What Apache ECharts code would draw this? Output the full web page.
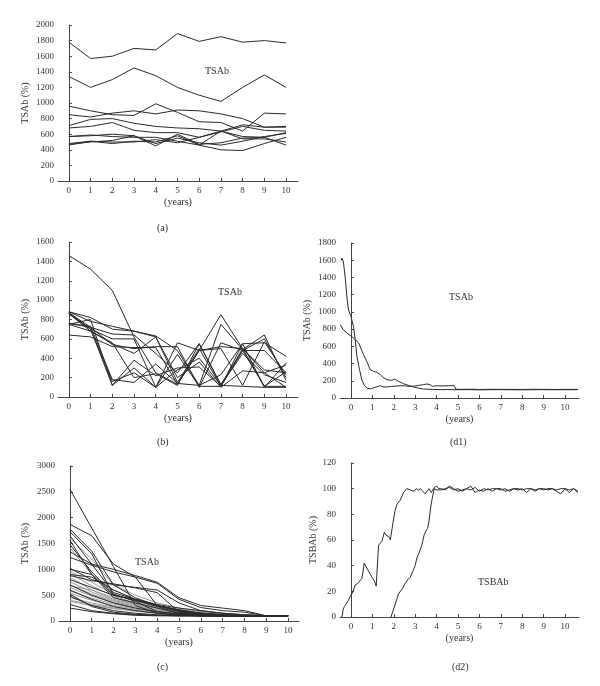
<!DOCTYPE html>
<html><head><meta charset="utf-8">
<script src="https://cdn.jsdelivr.net/npm/echarts@6/dist/echarts.min.js"></script>
<style>html,body{margin:0;padding:0;background:#fff}#c{width:600px;height:686px}</style>
</head><body><div id="c"></div>
<script>
const years = [0,1,2,3,4,5,6,7,8,9,10];
const tickYears = [0,1,2,3,4,5,6,7,8,9,10];

// Panel (a)
const aSeries = [
  [1780,1570,1600,1700,1680,1890,1790,1850,1780,1800,1770],
  [1340,1200,1300,1450,1350,1200,1100,1020,1200,1360,1200],
  [960,900,850,840,990,880,760,750,640,870,860],
  [850,820,870,900,860,910,900,860,800,690,690],
  [710,790,800,740,700,680,670,640,720,690,700],
  [680,700,750,650,620,620,560,630,700,650,640],
  [570,580,600,580,450,600,470,490,550,560,620],
  [570,590,570,560,560,510,460,640,570,560,460],
  [480,510,480,510,500,580,460,400,390,480,560],
  [460,510,500,500,530,490,560,640,540,540,500],
  [470,500,520,580,480,550,490,460,510,570,610]
];

// Panel (b)
const bSeries = [
  [1460,1320,1100,620,250,130,480,850,500,280,250],
  [880,820,700,680,630,480,120,750,490,640,170],
  [880,780,730,680,620,150,500,110,550,560,420],
  [870,720,650,640,450,250,550,130,480,600,200],
  [860,700,600,600,100,560,480,520,500,110,260],
  [760,720,540,500,520,520,100,560,480,480,250],
  [750,680,550,450,620,200,360,100,270,250,330],
  [640,620,520,510,510,130,480,500,120,570,230],
  [860,700,120,300,100,280,400,120,450,230,150],
  [760,730,180,150,340,140,120,230,550,100,350],
  [870,700,160,250,100,440,110,110,500,250,100],
  [750,800,120,380,220,300,310,110,480,110,110],
  [860,680,560,200,240,120,550,120,110,100,100]
];

// Panel (c)
const cBlack = [
  [2550,1800,1050,300,150,110,100,100,100,100,100],
  [1870,1650,1100,850,300,200,150,120,100,100,100],
  [1780,1350,700,450,300,200,150,120,100,100,100],
  [1730,1300,500,400,280,150,120,110,100,100,100],
  [1650,1100,550,420,300,180,130,110,100,100,100],
  [1560,900,450,350,250,150,120,100,100,100,100],
  [1480,950,520,380,180,130,110,100,100,100,100],
  [1340,1100,1000,880,750,450,300,250,200,100,100],
  [1230,1080,950,850,730,420,260,200,170,100,100],
  [1020,800,700,650,600,350,200,150,120,100,100],
  [880,780,720,640,550,170,130,110,100,100,100],
  [800,650,500,420,300,200,150,120,100,100,100],
  [700,500,350,250,180,140,110,100,100,100,100],
  [600,420,280,200,150,120,100,100,100,100,100],
  [480,300,200,150,120,110,100,100,100,100,100],
  [320,200,150,120,110,100,100,100,100,100,100],
  [250,180,140,110,100,100,100,100,100,100,100],
  [520,280,170,130,110,100,100,100,100,100,100],
  [1000,900,500,400,300,220,150,120,100,100,100],
  [900,850,600,420,320,250,200,150,120,100,100]
];
const cGray = [
  [1600,1200,700,500,350,250,180,150,120,100,100],
  [1420,900,600,420,300,220,170,140,110,100,100],
  [960,750,520,380,280,200,150,130,110,100,100],
  [920,680,480,350,260,190,150,120,100,100,100],
  [850,600,420,320,240,180,140,120,100,100,100],
  [760,560,400,300,220,170,130,110,100,100,100],
  [700,520,380,280,210,160,130,110,100,100,100],
  [650,480,360,260,200,150,120,100,100,100,100],
  [580,440,330,250,190,150,120,100,100,100,100],
  [540,400,300,230,180,140,110,100,100,100,100],
  [450,350,270,210,170,130,110,100,100,100,100],
  [400,320,250,200,160,130,110,100,100,100,100],
  [380,300,240,190,150,120,100,100,100,100,100],
  [680,600,450,330,250,200,160,130,110,100,100]
];

// Panel (d1)
const d1A = [[-0.45,1600],[-0.42,1625],[-0.35,1580],[-0.26,1380],[-0.18,1150],[-0.11,1020],[0.0,950],[0.12,830],[0.2,680],[0.28,480],[0.4,330],[0.51,210],[0.62,150],[0.75,115],[0.9,105],[1.05,118],[1.2,128],[1.37,143],[1.5,130],[1.68,128],[1.9,135],[2.1,138],[2.3,143],[2.55,140],[2.77,135],[3.0,140],[3.2,148],[3.39,155],[3.55,163],[3.7,155],[3.8,135],[3.86,116],[4.01,143],[4.3,140],[4.63,143],[4.82,143],[4.9,104]];
const d1B = [[-0.5,852],[-0.35,790],[-0.19,755],[0.0,720],[0.12,697],[0.36,639],[0.59,503],[0.75,420],[0.9,329],[1.05,310],[1.21,298],[1.37,271],[1.5,240],[1.68,213],[1.91,205],[2.04,220],[2.22,193],[2.46,166],[2.7,145],[2.92,128],[3.15,115],[3.39,104],[3.8,100],[4.17,97],[4.5,98]];
const d1TailYears = [5.0,5.5,6.0,6.5,7.0,7.5,8.0,8.5,9.0,9.5,10.0,10.6];
const d1ATail = [100,102,99,101,100,100,99,101,100,99,100,100];
const d1BTail = [96,97,95,96,97,96,95,96,97,96,96,96];

// Panel (d2)
const d2A = [[-0.42,0],[-0.36,6],[-0.31,8],[-0.15,12],[-0.03,16],[0.1,20],[0.2,25],[0.31,26],[0.4,25],[0.51,30],[0.57,36],[0.62,42],[0.75,38],[0.88,34],[0.98,31],[1.1,28],[1.18,24],[1.22,24],[1.29,56],[1.45,59],[1.56,66],[1.63,64],[1.71,63],[1.8,62],[1.84,60],[1.96,73],[2.05,82],[2.15,88],[2.3,91],[2.46,97],[2.61,100],[2.7,100],[2.77,99],[2.85,100],[2.95,98],[3.05,100],[3.15,99],[3.25,100],[3.35,98],[3.47,96],[3.55,98],[3.65,100],[3.75,97],[3.85,100],[4.0,99]];
const d2B = [[1.87,0],[1.95,4],[2.07,10],[2.22,18],[2.4,22],[2.53,26],[2.65,29],[2.77,31],[2.9,36],[3.0,40],[3.08,46],[3.16,49],[3.25,53],[3.31,56],[3.42,64],[3.5,67],[3.58,69],[3.65,75],[3.72,85],[3.78,91],[3.9,101],[4.01,102],[4.1,100]];
const d2TailYears = [4.2,4.4,4.6,4.8,5.0,5.2,5.4,5.6,5.8,6.0,6.2,6.4,6.6,6.8,7.0,7.2,7.4,7.6,7.8,8.0,8.2,8.4,8.6,8.8,9.0,9.2,9.4,9.6,9.8,10.0,10.2,10.4,10.6];
const d2ATail = [99,100,101,99,100,98,100,99,101,98,100,99,100,100,99,100,98,100,99,100,97,100,99,100,100,99,100,98,96,100,99,100,98];
const d2BTail = [100,99,102,100,98,99,100,102,97,99,98,100,98,100,100,98,99,100,100,99,100,100,98,100,99,100,100,99,100,100,97,100,97];

const FONT = 'Liberation Serif';
const TXT = '#333';
const LINE = '#2b2b2b';

function pairs(vals){ return years.map((y,i)=>[y, vals[i]]); }
function tail(xs, vs){ return xs.map((x,i)=>[x, vs[i]]); }

function xAxis(gi, min, max){
  return {
    type:'value', gridIndex:gi, min:min, max:max,
    name:'(years)', nameLocation:'middle', nameGap:16,
    nameTextStyle:{fontFamily:FONT, fontSize:10, color:TXT},
    axisLine:{lineStyle:{color:'#444', width:1}},
    axisTick:{inside:true, length:3, customValues:tickYears, lineStyle:{color:'#444'}},
    axisLabel:{customValues:tickYears, fontFamily:FONT, fontSize:9, color:TXT, margin:5, formatter:v=>String(v)},
    splitLine:{show:false}
  };
}
function yAxis(gi, max, interval, name, gap){
  return {
    type:'value', gridIndex:gi, min:0, max:max, interval:interval,
    name:name, nameLocation:'middle', nameGap:gap,
    nameTextStyle:{fontFamily:FONT, fontSize:10, color:TXT},
    axisLine:{show:true, lineStyle:{color:'#444', width:1}},
    axisTick:{show:true, inside:true, length:3, lineStyle:{color:'#444'}},
    axisLabel:{fontFamily:FONT, fontSize:9, color:TXT, margin:4, formatter:v=>String(v)},
    splitLine:{show:false}
  };
}
function line(gi, data, color, w){
  return {type:'line', xAxisIndex:gi, yAxisIndex:gi, data:data, showSymbol:false, symbol:'none',
    lineStyle:{color:color||LINE, width:w||1}, silent:true, animation:false};
}

const series = [];
aSeries.forEach(v=>series.push(line(0, pairs(v))));
bSeries.forEach(v=>series.push(line(1, pairs(v))));
series.push(line(2, d1A.concat(tail(d1TailYears, d1ATail))));
series.push(line(2, d1B.concat(tail(d1TailYears, d1BTail))));
cGray.forEach(v=>series.push(line(3, pairs(v), '#9a9a9a')));
cBlack.forEach(v=>series.push(line(3, pairs(v))));
series.push(line(4, d2A.concat(tail(d2TailYears, d2ATail))));
series.push(line(4, d2B.concat(tail(d2TailYears, d2BTail))));

function txt(x, y, s){
  return {type:'text', left:x, top:y, style:{text:s, font:'10px "Liberation Serif"', fill:TXT, textAlign:'center', textVerticalAlign:'middle'}};
}

const option = {
  animation:false,
  backgroundColor:'#fff',
  grid:[
    {left:58, top:25, width:240, height:156},
    {left:58, top:242, width:240, height:155},
    {left:340, top:243, width:239, height:155},
    {left:59, top:466, width:240, height:155},
    {left:340, top:463, width:239, height:154}
  ],
  xAxis:[
    xAxis(0, -0.5, 10.55),
    xAxis(1, -0.5, 10.55),
    xAxis(2, -0.51, 10.65),
    xAxis(3, -0.5, 10.5),
    xAxis(4, -0.51, 10.65)
  ],
  yAxis:[
    yAxis(0, 2000, 200, 'TSAb (%)', 28),
    yAxis(1, 1600, 200, 'TSAb (%)', 28),
    yAxis(2, 1800, 200, 'TSAb (%)', 28),
    yAxis(3, 3000, 500, 'TSAb (%)', 29),
    yAxis(4, 120, 20, 'TSBAb (%)', 20)
  ],
  graphic:[
    txt(205, 66, 'TSAb'),
    txt(218, 287, 'TSAb'),
    txt(449, 292, 'TSAb'),
    txt(135, 557, 'TSAb'),
    txt(478, 577, 'TSBAb'),
    txt(157, 223, '(a)'),
    txt(157, 437, '(b)'),
    txt(450, 437, '(d1)'),
    txt(157, 662, '(c)'),
    txt(452, 662, '(d2)')
  ],
  series:series
};
const chart = echarts.init(document.getElementById('c'), null, {renderer:'canvas'});
chart.setOption(option);
</script></body></html>
